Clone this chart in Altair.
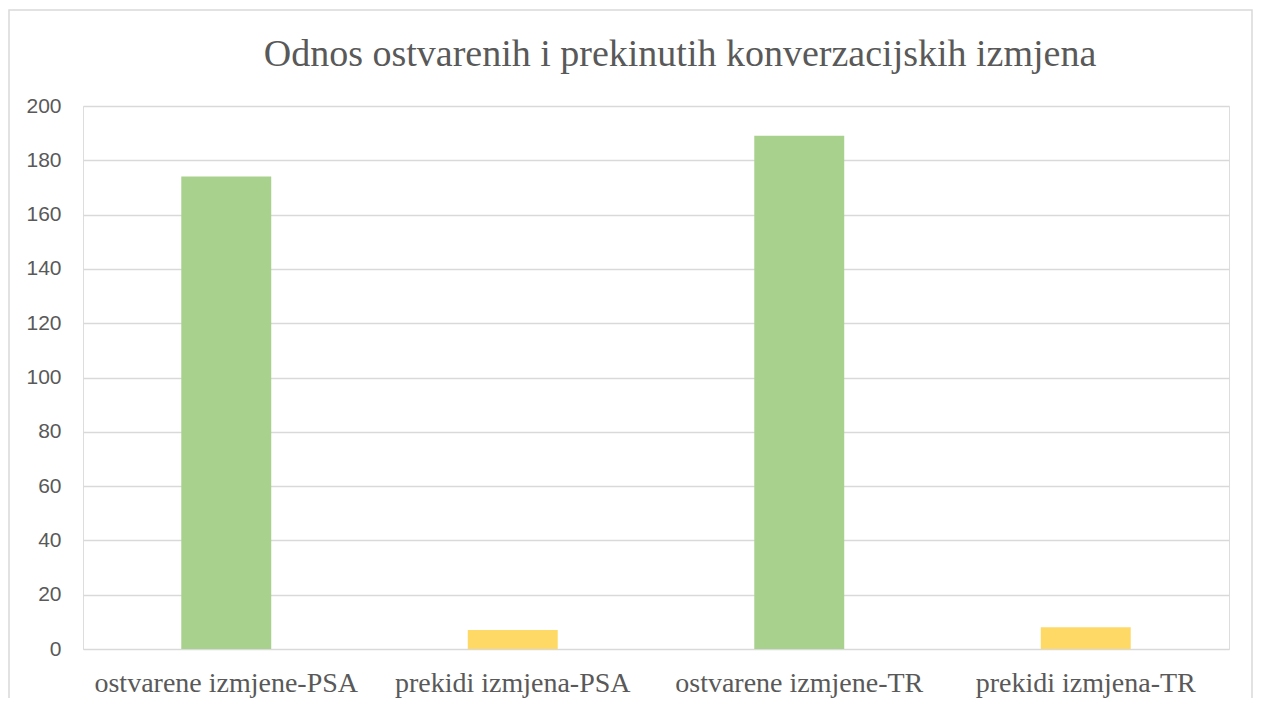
import altair as alt
import pandas as pd

categories = ["ostvarene izmjene-PSA", "prekidi izmjena-PSA", "ostvarene izmjene-TR", "prekidi izmjena-TR"]
values = [174, 7, 189, 8]
bar_colors = ["#A9D18E", "#FFD966", "#A9D18E", "#FFD966"]
y_ticks = [0, 20, 40, 60, 80, 100, 120, 140, 160, 180, 200]
title_text = "Odnos ostvarenih i prekinutih konverzacijskih izmjena"

df = pd.DataFrame({"kategorija": categories, "vrijednost": values})

bars = alt.Chart(df).mark_bar().encode(
    x=alt.X("kategorija:N", sort=categories,
            scale=alt.Scale(paddingInner=0.686, paddingOuter=0.343),
            axis=alt.Axis(title=None, labelAngle=0, domain=False, ticks=False, grid=False,
                          labelFont="Liberation Serif", labelFontSize=28, labelColor="#595959",
                          labelPadding=20, labelLimit=0)),
    y=alt.Y("vrijednost:Q", scale=alt.Scale(domain=[0, 200], nice=False),
            axis=alt.Axis(title=None, values=y_ticks, domain=False, ticks=False,
                          gridColor="#d9d9d9", gridWidth=1.5,
                          labelFont="Liberation Sans", labelFontSize=21, labelColor="#595959",
                          labelPadding=22)),
    color=alt.Color("kategorija:N", scale=alt.Scale(domain=categories, range=bar_colors), legend=None),
)

frame = alt.Chart(pd.DataFrame({"a": [0]})).mark_rect(fill=None, stroke="#d9d9d9", strokeWidth=1.5).encode(
    x=alt.value(-74), x2=alt.value(1169), y=alt.value(-96), y2=alt.value(620)
)

chart = alt.layer(frame, bars).properties(
    width=1146, height=543,
    title=alt.TitleParams(title_text, font="Liberation Serif", fontSize=38, fontWeight="normal",
                          color="#595959", anchor="middle", baseline="alphabetic", offset=-95, dx=24),
    padding={"left": 75, "top": 98, "right": 24, "bottom": 49},
    autosize=alt.AutoSizeParams(type="none"),
).configure_view(stroke=None).configure(background="white")

chart.save("out.html", embed_options={"renderer": "svg", "actions": False})
